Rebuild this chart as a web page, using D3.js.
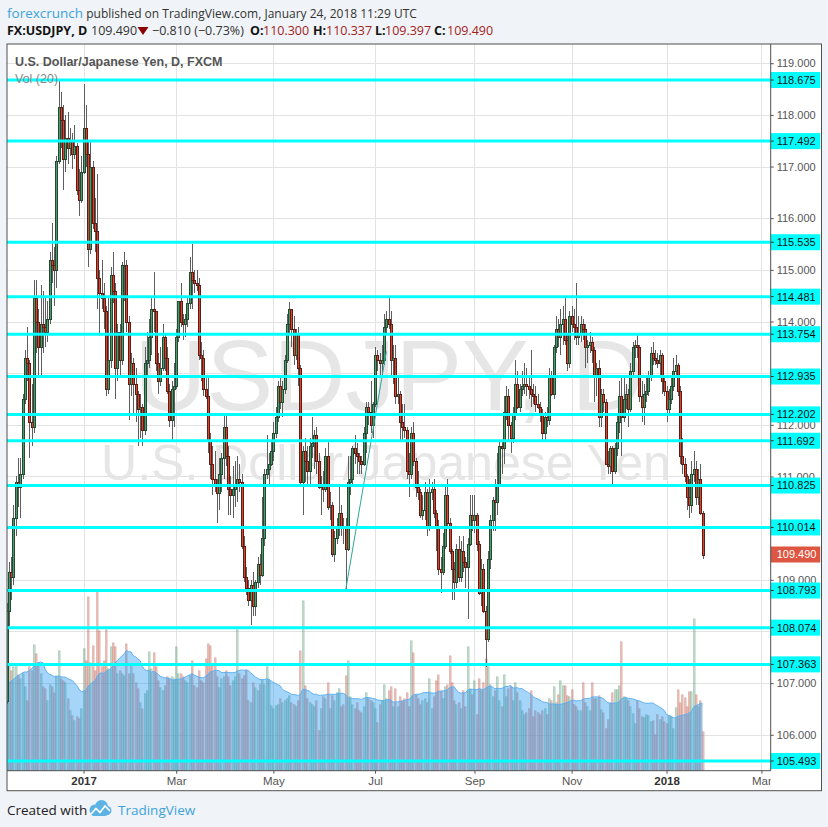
<!DOCTYPE html>
<html>
<head>
<meta charset="utf-8">
<script src="https://cdn.jsdelivr.net/npm/d3@7"></script>
<style>
  body { margin: 0; background: #f0f3f7; }
  svg text { font-family: "Liberation Sans", Arial, sans-serif; }
  .hdr { font-family: "Open Sans", "Noto Sans", sans-serif !important; }
</style>
</head>
<body>
<svg id="chart" width="828" height="827"></svg>
<script>
// ---- data ----
var symbolName = "USDJPY", interval = "D";
var description = "U.S. Dollar/Japanese Yen";
var firstBarDate = "2016-11-14";
var holidays = ["2016-12-26", "2017-01-02", "2017-12-25", "2018-01-01"];

// daily bars: [open, high, low, close]
var ohlc = [
  // 2016 Nov 14 - 18
  [106.65,108.55,106.60,108.40],[108.40,109.35,108.10,109.15],[109.15,109.45,108.60,109.05],[109.05,110.45,108.90,110.20],[110.20,111.00,109.85,110.90],
  // Nov 21 - 25
  [110.90,111.35,110.40,110.80],[110.80,111.35,110.20,111.05],[111.05,112.60,110.95,112.50],[112.50,113.45,112.40,113.30],[113.30,113.90,112.85,113.20],
  // Nov 28 - Dec 2
  [113.20,113.25,111.35,112.05],[112.05,112.80,111.60,111.95],[111.95,114.80,111.85,114.45],[114.45,114.80,113.40,114.00],[114.00,114.25,112.90,113.50],
  // Dec 5 - 9
  [113.50,114.70,112.90,113.95],[113.95,114.60,113.40,113.90],[113.90,114.45,113.50,113.80],[113.80,114.40,113.60,114.05],[114.05,115.35,113.95,115.20],
  // Dec 12 - 16
  [115.20,115.90,114.75,115.10],[115.10,115.45,114.30,115.00],[115.00,117.20,114.65,117.10],[117.10,118.65,117.05,118.15],[118.15,118.45,117.35,117.90],
  // Dec 19 - 23
  [117.90,118.20,116.55,117.15],[117.15,118.00,116.90,117.55],[117.55,118.05,117.05,117.35],[117.35,117.75,117.20,117.50],[117.50,117.65,116.95,117.25],
  // Dec 27 - 30
  [117.25,117.80,117.15,117.40],[117.40,117.45,116.45,116.55],[116.55,116.95,116.05,116.35],[116.35,117.20,116.30,116.90],
  // 2017 Jan 3 - 6
  [116.90,118.60,116.85,117.75],[117.75,118.20,117.00,117.25],[117.25,117.50,115.05,115.40],[115.40,117.50,115.30,117.00],
  // Jan 9 - 13
  [117.00,117.10,115.80,115.90],[115.90,116.40,115.35,115.75],[115.75,116.85,114.25,114.85],[114.85,115.00,113.75,114.55],[114.55,115.20,114.25,114.45],
  // Jan 16 - 20
  [114.45,114.75,113.85,114.20],[114.20,114.30,112.55,112.70],[112.70,114.45,112.60,113.25],[113.25,115.05,113.10,114.90],[114.90,115.35,114.35,114.60],
  // Jan 23 - 27
  [114.60,114.75,112.50,113.10],[113.10,113.95,112.85,113.80],[113.80,113.95,112.95,113.25],[113.25,115.15,113.15,115.10],[115.10,115.35,114.40,115.10],
  // Jan 30 - Feb 3
  [115.10,115.20,113.80,114.00],[114.00,114.10,112.10,112.80],[112.80,113.40,112.55,113.20],[113.20,113.30,112.20,112.80],[112.80,113.10,112.05,112.60],
  // Feb 6 - 10
  [112.60,112.65,111.60,112.30],[112.30,112.60,111.75,112.35],[112.35,112.40,111.60,111.90],[111.90,113.50,111.80,113.20],[113.20,113.80,112.95,113.25],
  // Feb 13 - 17
  [113.25,114.05,113.10,113.70],[113.70,114.50,113.35,114.25],[114.25,114.95,113.80,114.20],[114.20,114.20,113.05,113.20],[113.20,113.40,112.60,112.85],
  // Feb 20 - 24
  [112.85,113.50,112.75,113.10],[113.10,113.95,113.05,113.70],[113.70,113.75,113.05,113.30],[113.30,113.50,112.60,112.65],[112.65,112.80,111.95,112.10],
  // Feb 27 - Mar 3
  [112.10,112.85,111.70,112.70],[112.70,113.20,111.95,112.75],[112.75,113.85,112.70,113.70],[113.70,114.40,113.60,114.40],[114.40,114.75,113.90,114.00],
  // Mar 6 - 10
  [114.00,114.15,113.65,113.95],[113.95,114.15,113.70,114.05],[114.05,114.50,113.90,114.35],[114.35,115.25,114.25,114.95],[114.95,115.50,114.25,114.80],
  // Mar 13 - 17
  [114.80,115.00,114.55,114.75],[114.75,115.00,114.60,114.70],[114.70,114.85,113.25,113.35],[113.35,113.60,112.85,113.30],[113.30,113.45,112.55,112.70],
  // Mar 20 - 24
  [112.70,112.90,112.50,112.55],[112.55,112.90,111.45,111.70],[111.70,111.85,110.95,111.25],[111.25,111.60,110.65,110.95],[110.95,111.50,110.70,110.85],
  // Mar 27 - 31
  [110.85,110.95,110.10,110.68],[110.68,111.35,110.35,111.05],[111.05,111.45,110.70,111.35],[111.35,112.20,110.95,111.95],[111.95,112.20,111.20,111.40],
  // Apr 3 - 7
  [111.40,111.60,110.25,110.75],[110.75,111.00,110.25,110.65],[110.65,111.20,110.20,110.75],[110.75,111.30,110.40,110.85],[110.85,111.40,110.50,110.95],
  // Apr 10 - 14
  [110.95,111.25,110.70,110.90],[110.90,111.05,109.60,109.65],[109.65,109.85,108.95,109.05],[109.05,109.25,108.70,108.85],[108.85,109.00,108.50,108.60],
  // Apr 17 - 21
  [108.60,109.00,108.13,108.90],[108.90,109.15,108.30,108.50],[108.50,109.00,108.30,108.95],[108.95,109.45,108.85,109.30],[109.30,109.50,108.90,109.10],
  // Apr 24 - 28
  [109.10,110.60,109.05,109.80],[109.80,111.15,109.65,111.05],[111.05,111.80,110.95,111.15],[111.15,111.45,110.80,111.25],[111.25,111.70,111.20,111.50],
  // May 1 - 5
  [111.50,112.05,111.30,111.85],[111.85,112.35,111.75,112.15],[112.15,112.85,112.05,112.75],[112.75,112.95,112.30,112.45],[112.45,112.85,112.15,112.70],
  // May 8 - 12
  [112.70,113.35,112.60,113.25],[113.25,114.15,113.20,113.95],[113.95,114.37,113.75,114.25],[114.25,114.25,113.50,113.85],[113.85,114.10,113.15,113.35],
  // May 15 - 19
  [113.35,113.85,113.25,113.75],[113.75,113.90,112.75,113.10],[113.10,113.15,110.85,110.90],[110.90,111.60,110.25,111.50],[111.50,111.75,110.90,111.30],
  // May 22 - 26
  [111.30,111.60,110.85,111.10],[111.10,111.75,110.85,111.60],[111.60,112.15,111.35,111.65],[111.65,111.90,111.15,111.80],[111.80,111.95,111.05,111.30],
  // May 29 - Jun 2
  [111.30,111.45,110.75,110.80],[110.80,111.00,110.25,110.85],[110.85,111.10,110.50,110.75],[110.75,111.55,110.70,111.40],[111.40,111.70,110.35,110.40],
  // Jun 5 - 9
  [110.40,110.70,110.15,110.45],[110.45,110.50,109.45,109.50],[109.50,109.95,109.35,109.80],[109.80,110.20,109.70,110.00],[110.00,110.80,109.85,110.30],
  // Jun 12 - 16
  [110.30,110.45,109.85,110.05],[110.05,110.20,109.70,110.00],[110.00,110.20,108.82,109.60],[109.60,111.40,109.55,110.90],[110.90,111.40,110.65,110.95],
  // Jun 19 - 23
  [110.95,111.60,110.85,111.55],[111.55,111.80,111.25,111.45],[111.45,111.65,111.05,111.40],[111.40,111.45,111.05,111.30],[111.30,111.40,111.05,111.25],
  // Jun 26 - 30
  [111.25,111.95,111.20,111.85],[111.85,112.45,111.45,112.35],[112.35,112.45,112.00,112.25],[112.25,112.85,111.85,112.00],[112.00,112.45,111.75,112.40],
  // Jul 3 - 7
  [112.40,113.50,112.35,113.35],[113.35,113.45,113.05,113.25],[113.25,113.40,112.95,113.20],[113.20,113.55,112.90,113.25],[113.25,114.15,113.15,113.90],
  // Jul 10 - 14
  [113.90,114.20,113.75,114.05],[114.05,114.49,113.85,113.95],[113.95,114.20,112.95,113.25],[113.25,113.55,112.80,113.30],[113.30,113.55,112.40,112.55],
  // Jul 17 - 21
  [112.55,112.95,112.40,112.60],[112.60,112.65,111.70,112.05],[112.05,112.40,111.70,111.95],[111.95,112.40,111.75,111.90],[111.90,111.95,110.95,111.10],
  // Jul 24 - 28
  [111.10,111.45,110.60,111.05],[111.05,111.95,110.95,111.85],[111.85,112.05,111.20,111.30],[111.30,111.35,110.60,110.80],[110.80,111.10,110.55,110.70],
  // Jul 31 - Aug 4
  [110.70,110.75,110.20,110.25],[110.25,110.65,110.15,110.35],[110.35,110.90,110.15,110.70],[110.70,110.75,109.85,110.05],[110.05,110.95,109.95,110.70],
  // Aug 7 - 11
  [110.70,110.90,110.55,110.75],[110.75,110.95,110.20,110.30],[110.30,110.35,109.55,110.05],[110.05,110.15,109.10,109.20],[109.20,109.45,108.75,109.15],
  // Aug 14 - 18
  [109.15,109.90,109.10,109.65],[109.65,110.85,109.60,110.65],[110.65,110.95,110.05,110.10],[110.10,110.20,109.50,109.55],[109.55,109.60,108.60,109.20],
  // Aug 21 - 25
  [109.20,109.35,108.60,108.95],[108.95,109.70,108.85,109.60],[109.60,109.85,108.95,109.05],[109.05,109.75,108.95,109.55],[109.55,109.85,109.15,109.35],
  // Aug 28 - Sep 1
  [109.35,109.45,108.85,109.25],[109.25,109.80,108.25,109.70],[109.70,110.65,109.65,110.25],[110.25,110.65,109.95,110.15],[110.15,110.65,109.90,110.25],
  // Sep 4 - 8
  [110.25,110.30,109.55,109.70],[109.70,109.75,108.70,108.75],[108.75,109.40,108.50,109.20],[109.20,109.30,108.35,108.40],[108.40,108.50,107.32,107.85],
  // Sep 11 - 15
  [107.85,109.55,107.80,109.40],[109.40,110.25,109.20,110.15],[110.15,110.60,109.95,110.55],[110.55,110.95,109.95,110.50],[110.50,111.45,110.25,110.85],
  // Sep 18 - 22
  [110.85,111.70,110.80,111.60],[111.60,111.70,111.05,111.55],[111.55,112.55,111.25,112.25],[112.25,112.75,112.10,112.55],[112.55,112.70,111.70,112.00],
  // Sep 25 - 29
  [112.00,112.05,111.45,111.75],[111.75,112.35,111.65,112.20],[112.20,113.25,112.10,112.80],[112.80,113.05,112.30,112.35],[112.35,112.80,112.25,112.70],
  // Oct 2 - 6
  [112.70,113.05,112.55,112.75],[112.75,113.20,112.60,112.80],[112.80,113.10,112.55,112.75],[112.75,112.95,112.50,112.70],[112.70,113.45,112.35,112.60],
  // Oct 9 - 13
  [112.60,112.80,112.40,112.55],[112.55,112.75,112.25,112.40],[112.40,112.60,112.30,112.35],[112.35,112.45,112.05,112.20],[112.20,112.30,111.70,111.85],
  // Oct 16 - 20
  [111.85,112.25,111.70,112.15],[112.15,112.35,111.95,112.10],[112.10,113.10,112.00,112.95],[112.95,113.05,112.55,112.60],[112.60,113.55,112.50,113.50],
  // Oct 23 - 27
  [113.50,114.10,113.40,113.85],[113.85,114.05,113.50,113.70],[113.70,114.25,113.35,113.95],[113.95,114.30,113.55,114.05],[114.05,114.45,113.55,113.65],
  // Oct 30 - Nov 3
  [113.65,113.75,113.05,113.20],[113.20,114.20,113.10,114.10],[114.10,114.30,113.80,113.95],[113.95,114.25,113.65,113.90],[113.90,114.75,113.55,113.70],
  // Nov 6 - 10
  [113.70,114.10,113.55,113.75],[113.75,114.10,113.60,113.95],[113.95,114.05,113.65,113.85],[113.85,113.95,113.10,113.50],[113.50,113.65,113.20,113.55],
  // Nov 13 - 17
  [113.55,113.80,113.40,113.60],[113.60,113.70,113.20,113.45],[113.45,113.50,112.45,112.95],[112.95,113.20,112.55,113.10],[113.10,113.25,111.95,112.15],
  // Nov 20 - 24
  [112.15,112.70,111.95,112.60],[112.60,112.70,112.25,112.45],[112.45,112.50,111.25,111.25],[111.25,111.50,111.05,111.20],[111.20,111.60,111.05,111.55],
  // Nov 27 - Dec 1
  [111.55,111.60,110.85,111.10],[111.10,111.65,111.05,111.55],[111.55,112.20,111.40,112.05],[112.05,112.85,111.85,112.55],[112.55,112.95,111.40,112.15],
  // Dec 4 - 8
  [112.15,112.95,112.05,112.50],[112.50,112.80,112.30,112.60],[112.60,112.70,111.95,112.30],[112.30,113.20,112.25,113.05],[113.05,113.60,112.95,113.50],
  // Dec 11 - 15
  [113.50,113.65,113.30,113.55],[113.55,113.75,113.30,113.50],[113.50,113.55,112.45,112.55],[112.55,112.85,112.05,112.35],[112.35,112.80,112.00,112.60],
  // Dec 18 - 22
  [112.60,112.90,112.45,112.65],[112.65,113.05,112.55,112.95],[112.95,113.50,112.85,113.40],[113.40,113.60,113.15,113.30],[113.30,113.45,113.15,113.25],
  // Dec 26 - 29
  [113.25,113.40,113.10,113.20],[113.20,113.45,112.95,113.35],[113.35,113.40,112.60,112.85],[112.85,112.95,112.55,112.65],
  // 2018 Jan 2 - 5
  [112.65,112.75,112.05,112.30],[112.30,112.70,112.20,112.50],[112.50,112.95,112.40,112.75],[112.75,113.30,112.65,113.05],
  // Jan 8 - 12
  [113.05,113.35,112.95,113.15],[113.15,113.20,112.55,112.65],[112.65,112.75,111.25,111.40],[111.40,111.75,111.05,111.25],[111.25,111.35,110.90,111.00],
  // Jan 15 - 19
  [111.00,111.05,110.35,110.60],[110.60,110.95,110.20,110.45],[110.45,111.30,110.30,111.05],[111.05,111.50,110.90,111.15],[111.15,111.30,110.45,110.60],
  // Jan 22 - 24
  [110.60,111.15,110.45,110.95],[110.95,111.25,110.25,110.30],[110.30,110.337,109.397,109.490]
];

// daily volume (thousands), same bars as above
var volume = [
  104,105,100,104,106, 96,92,97,84,70, 104,100,126,117,108, 97,84,82,70,86, 84,78,95,120,92, 90,88,72,60,55, 50,54,52,62,
  122,110,174,108, 125,100,179,140,104, 110,141,102,124,128, 124,97,100,97,95, 127,97,107,97,88,
  82,68,62,77,80, 119,102,118,104,90, 83,80,85,94,92, 94,92,124,97,97, 94,90,88,95,110,
  85,83,100,90,88, 112,127,125,105,113, 94,83,92,94,100, 94,85,90,94,141, 97,92,95,100,70,
  68,88,83,80,86, 91,86,104,90,65, 62,65,66,72,68, 70,72,75,68,66, 64,70,120,170,85,
  72,68,66,64,70, 40,62,74,72,88, 62,75,70,78,82, 64,66,95,110,74, 66,62,68,60,58,
  64,78,72,70,68, 62,48,66,70,86, 72,80,84,64,82, 64,74,70,72,78, 64,130,118,76,72,
  66,70,72,68,92, 62,74,90,96,80, 72,84,86,115,88, 70,66,68,62,80, 64,124,82,76,90,
  56,92,80,88,112, 104,86,74,80,94, 70,64,96,74,82, 84,70,88,78,70, 60,56,58,62,80,
  54,60,58,56,60, 62,56,72,70,84, 68,76,90,85,85, 75,74,81,66,64, 60,60,88,68,64,
  60,88,72,72,75, 61,58,42,51,68, 78,81,81,85,129, 74,72,70,64,57, 47,70,62,54,53,
  56,55,49,50,36, 56,51,54,49,
  47,55,54,42, 63,81,68,76,73, 64,79,79,152,76, 64,70,39
];
// volume of the 19 sessions before the first visible bar (only feeds the MA)
var volumePrior = [62,66,70,64,68,60,64,72,70,74,66,70,80,76,86,96,210,150,110];
var volLength = 20;

// horizontal levels drawn on the chart
var levels = [118.675, 117.492, 115.535, 114.481, 113.754, 112.935, 112.202, 111.692,
              110.825, 110.014, 108.793, 108.074, 107.363, 105.493];
// trend line: [date, price]
var trendLine = [["2017-06-14", 108.80], ["2017-07-10", 113.42]];

// time axis
var tickMonths = ["2017-01", "2017-03", "2017-05", "2017-07", "2017-09", "2017-11", "2018-01", "2018-03"];
var tickLabels = ["2017", "Mar", "May", "Jul", "Sep", "Nov", "2018", "Mar"];

// ---- layout ----
var frame = {left: 7, top: 44, right: 821.5, bottom: 790.7};
var plot = {left: 7, top: 44, right: 770.7, bottom: 770.7};

var parseDay = d3.timeParse("%Y-%m-%d"), fmtDay = d3.timeFormat("%Y-%m-%d");

// trading calendar (weekdays without holidays)
var calendar = [];
for (var d = parseDay(firstBarDate); calendar.length < 345; d = d3.timeDay.offset(d, 1)) {
  var wd = d.getDay();
  if (wd === 0 || wd === 6 || holidays.indexOf(fmtDay(d)) >= 0) continue;
  calendar.push(d);
}
function indexOfDate(s) {
  var t = parseDay(s);
  return calendar.findIndex(function(c) { return c >= t; });
}

var bars = ohlc.map(function(r, i) {
  return {i: i, date: calendar[i], o: r[0], h: r[1], l: r[2], c: r[3], v: volume[i]};
});

// scales
var x = d3.scaleLinear().domain([0.13, 338.1]).range([plot.left, plot.right]);
var y = d3.scaleLinear().domain([105.305, 119.372]).range([plot.bottom, plot.top]);
var yVol = d3.scaleLinear().domain([0, d3.max(volume)])
  .range([plot.bottom, plot.bottom - (plot.bottom - plot.top) * 0.246]);

var svg = d3.select("#chart");
var defs = svg.append("defs");
defs.append("clipPath").attr("id", "plotClip").append("rect")
  .attr("x", plot.left).attr("y", plot.top)
  .attr("width", plot.right - plot.left).attr("height", plot.bottom - plot.top);
defs.append("clipPath").attr("id", "xLabelClip").append("rect")
  .attr("x", plot.left).attr("y", plot.bottom)
  .attr("width", plot.right - plot.left).attr("height", frame.bottom - plot.bottom);

// background + frame
svg.append("rect").attr("width", 828).attr("height", 827).attr("fill", "#f0f3f7");
svg.append("rect")
  .attr("x", frame.left).attr("y", frame.top)
  .attr("width", frame.right - frame.left).attr("height", frame.bottom - frame.top)
  .attr("fill", "#fff");

var inner = svg.append("g").attr("clip-path", "url(#plotClip)");

// watermark
var wm = inner.append("g").attr("fill", "#e6e6e6").attr("text-anchor", "middle");
wm.append("text").attr("x", 389).attr("y", 410).attr("font-size", 100)
  .text(symbolName + ", " + interval);
wm.append("text").attr("x", 386).attr("y", 480).attr("font-size", 50)
  .text(description);

// grid
var priceTicks = y.ticks(14);
var tickIdx = tickMonths.map(function(m) { return indexOfDate(m + "-01"); });
inner.append("g").selectAll("line").data(priceTicks).join("line")
  .attr("x1", plot.left).attr("x2", plot.right)
  .attr("y1", function(p) { return Math.round(y(p)) + 0.5; })
  .attr("y2", function(p) { return Math.round(y(p)) + 0.5; })
  .attr("stroke", "#e3e3e3");
inner.append("g").selectAll("line").data(tickIdx).join("line")
  .attr("y1", plot.top).attr("y2", plot.bottom)
  .attr("x1", function(i) { return Math.round(x(i)) + 0.5; })
  .attr("x2", function(i) { return Math.round(x(i)) + 0.5; })
  .attr("stroke", "#e3e3e3");

// volume bars
var volG = inner.append("g");
volG.selectAll("rect").data(bars).join("rect")
  .attr("x", function(b) { return Math.round(x(b.i)) - 0.5; })
  .attr("width", 1.6)
  .attr("y", function(b) { return yVol(b.v); })
  .attr("height", function(b) { return plot.bottom - yVol(b.v); })
  .attr("fill", function(b) { return b.c >= b.o ? "#6ba583" : "#d75442"; })
  .attr("fill-opacity", 0.36)
  .attr("stroke", function(b) { return b.c >= b.o ? "#5f9a78" : "#b9766c"; })
  .attr("stroke-opacity", 0.55)
  .attr("stroke-width", 0.6);

// volume MA(20) area
var volAll = volumePrior.concat(volume);
var volMA = volume.map(function(v, i) {
  var k = i + volumePrior.length;
  return d3.mean(volAll.slice(k - volLength + 1, k + 1));
});
var maArea = d3.area()
  .x(function(v, i) { return x(i); })
  .y0(plot.bottom)
  .y1(function(v) { return yVol(v); });
volG.append("path").datum(volMA).attr("d", maArea)
  .attr("fill", "#2196f3").attr("fill-opacity", 0.4);
volG.append("path").datum(volMA).attr("d", maArea.lineY1())
  .attr("fill", "none").attr("stroke", "#5fb0f0").attr("stroke-width", 1);

// candles
var candleG = inner.append("g").attr("shape-rendering", "crispEdges");
candleG.selectAll("line").data(bars).join("line")
  .attr("x1", function(b) { return Math.round(x(b.i)) + 0.5; })
  .attr("x2", function(b) { return Math.round(x(b.i)) + 0.5; })
  .attr("y1", function(b) { return Math.round(y(b.h)); })
  .attr("y2", function(b) { return Math.round(y(b.l)); })
  .attr("stroke", "#5e5e5e");
candleG.selectAll("rect").data(bars).join("rect")
  .attr("x", function(b) { return Math.round(x(b.i)) - 0.5; })
  .attr("width", 2)
  .attr("y", function(b) { return Math.round(y(Math.max(b.o, b.c))) + 0.5; })
  .attr("height", function(b) {
    return Math.max(1, Math.round(y(Math.min(b.o, b.c))) - Math.round(y(Math.max(b.o, b.c))));
  })
  .attr("fill", function(b) { return b.c >= b.o ? "#4e9a6b" : "#d8442e"; })
  .attr("stroke", function(b) { return b.c >= b.o ? "#234a33" : "#5e1d14"; });

// trend line
inner.append("line")
  .attr("x1", x(indexOfDate(trendLine[0][0]))).attr("y1", y(trendLine[0][1]))
  .attr("x2", x(indexOfDate(trendLine[1][0]))).attr("y2", y(trendLine[1][1]))
  .attr("stroke", "#2ea597").attr("stroke-width", 1);

// legend
svg.append("text").attr("x", 15).attr("y", 66).attr("font-size", 12.5)
  .attr("font-weight", "bold").attr("fill", "#555")
  .text(description + ", " + interval + ", FXCM");
svg.append("text").attr("x", 15).attr("y", 83).attr("font-size", 12.5)
  .attr("fill", "#888").text("Vol (" + volLength + ")");

// level lines
inner.append("g").selectAll("line").data(levels).join("line")
  .attr("x1", plot.left).attr("x2", plot.right)
  .attr("y1", function(p) { return y(p); }).attr("y2", function(p) { return y(p); })
  .attr("stroke", "#00ffff").attr("stroke-width", 3);

// price axis (labels fully covered by a level box are left out)
var fmtPrice = d3.format(".3f");
var axisTicks = priceTicks.filter(function(p) {
  return d3.min(levels, function(l) { return Math.abs(y(l) - y(p)); }) > 6;
});
var yAxis = svg.append("g").attr("transform", "translate(" + plot.right + ",0)")
  .call(d3.axisRight(y).tickValues(axisTicks).tickFormat(fmtPrice).tickSize(3).tickPadding(3));
yAxis.select(".domain").remove();
yAxis.selectAll(".tick line").attr("stroke", "#555");
yAxis.selectAll(".tick text").attr("font-size", 11).attr("fill", "#555")
  .style("font-family", "Liberation Sans, Arial, sans-serif");

var lvlLab = svg.append("g").selectAll("g").data(levels).join("g")
  .attr("transform", function(p) { return "translate(" + plot.right + "," + y(p) + ")"; });
lvlLab.append("rect").attr("x", 0).attr("y", -8).attr("width", 49.5).attr("height", 16).attr("fill", "#00ffff");
lvlLab.append("line").attr("x1", 0).attr("x2", 3).attr("stroke", "#333");
lvlLab.append("text").attr("x", 6).attr("dy", "0.35em").attr("font-size", 11).attr("fill", "#111")
  .text(function(p) { return fmtPrice(p); });

var last = bars[bars.length - 1];
var lastLab = svg.append("g").attr("transform", "translate(" + plot.right + "," + y(last.c) + ")");
lastLab.append("rect").attr("x", 0).attr("y", -8).attr("width", 49.5).attr("height", 16).attr("fill", "#dc5641");
lastLab.append("text").attr("x", 6).attr("dy", "0.35em").attr("font-size", 11).attr("fill", "#fff")
  .text(fmtPrice(last.c));

// time axis (clipped at the price axis, like the reference)
var xAxis = svg.append("g").attr("clip-path", "url(#xLabelClip)")
  .append("g").attr("transform", "translate(0," + plot.bottom + ")")
  .call(d3.axisBottom(x).tickValues(tickIdx)
    .tickFormat(function(i, k) { return tickLabels[k]; }).tickSize(3).tickPadding(3));
xAxis.select(".domain").remove();
xAxis.selectAll(".tick line").attr("stroke", "#555");
xAxis.selectAll(".tick text").attr("font-size", 11.5)
  .style("font-family", "Liberation Sans, Arial, sans-serif")
  .attr("fill", function(i, k) { return /^\d{4}$/.test(tickLabels[k]) ? "#333" : "#555"; })
  .attr("font-weight", function(i, k) { return /^\d{4}$/.test(tickLabels[k]) ? "bold" : "normal"; });

// frame lines
var fr = svg.append("g").attr("stroke", "#505050").attr("fill", "none");
fr.append("rect").attr("x", frame.left).attr("y", frame.top)
  .attr("width", frame.right - frame.left).attr("height", frame.bottom - frame.top);
fr.append("line").attr("x1", plot.right).attr("x2", plot.right).attr("y1", plot.top).attr("y2", plot.bottom);
fr.append("line").attr("x1", plot.left).attr("x2", plot.right).attr("y1", plot.bottom).attr("y2", plot.bottom);

// header
var h1 = svg.append("text").attr("class", "hdr").attr("x", 7).attr("y", 18).attr("fill", "#333");
h1.append("tspan").attr("fill", "#3ca3dd").attr("font-size", 13.5).text("forexcrunch");
h1.append("tspan").attr("font-size", 12).text(" published on TradingView.com, January 24, 2018 11:29 UTC");

var prev = bars[bars.length - 2];
var chg = last.c - prev.c;
var hdr2 = [
  {x: 7, t: "FX:" + symbolName + ", " + interval, bold: true, fill: "#131313"},
  {x: 91, t: fmtPrice(last.c), fill: "#333"},
  {x: 152, t: "\u2212" + fmtPrice(Math.abs(chg)) + " (\u2212" + d3.format(".2f")(Math.abs(chg) / prev.c * 100) + "%)", fill: "#333"},
  {x: 250, t: "O:", bold: true, fill: "#131313"}, {x: 263, t: fmtPrice(last.o), fill: "#a3231d"},
  {x: 313, t: "H:", bold: true, fill: "#131313"}, {x: 326, t: fmtPrice(last.h), fill: "#a3231d"},
  {x: 375, t: "L:", bold: true, fill: "#131313"}, {x: 385, t: fmtPrice(last.l), fill: "#a3231d"},
  {x: 434, t: "C:", bold: true, fill: "#131313"}, {x: 447, t: fmtPrice(last.c), fill: "#a3231d"}
];
svg.append("g").selectAll("text").data(hdr2).join("text").attr("class", "hdr")
  .attr("x", function(s) { return s.x; }).attr("y", 35).attr("font-size", 12.5)
  .attr("font-weight", function(s) { return s.bold ? "bold" : "normal"; })
  .attr("fill", function(s) { return s.fill; })
  .text(function(s) { return s.t; });
svg.append("path").attr("d", "M137.5,27 L148.5,27 L143,35 Z").attr("fill", "#8b0000");

// footer
svg.append("text").attr("class", "hdr").attr("x", 7).attr("y", 815).attr("font-size", 13.5)
  .attr("fill", "#222").text("Created with");
var logo = svg.append("g").attr("fill", "#5db3e4");
logo.append("circle").attr("cx", 95).attr("cy", 810).attr("r", 5.5);
logo.append("circle").attr("cx", 101.5).attr("cy", 806.5).attr("r", 6.5);
logo.append("circle").attr("cx", 107).attr("cy", 810.5).attr("r", 4.5);
logo.append("rect").attr("x", 91).attr("y", 809).attr("width", 17).attr("height", 7).attr("rx", 3);
svg.append("polyline").attr("points", "91,814 96,808.5 100,812.5 105,806 110,811")
  .attr("fill", "none").attr("stroke", "#fff").attr("stroke-width", 1.6);
svg.append("text").attr("class", "hdr").attr("x", 118).attr("y", 815).attr("font-size", 13.5)
  .attr("fill", "#3ca3dd").text("TradingView");
</script>
</body>
</html>
